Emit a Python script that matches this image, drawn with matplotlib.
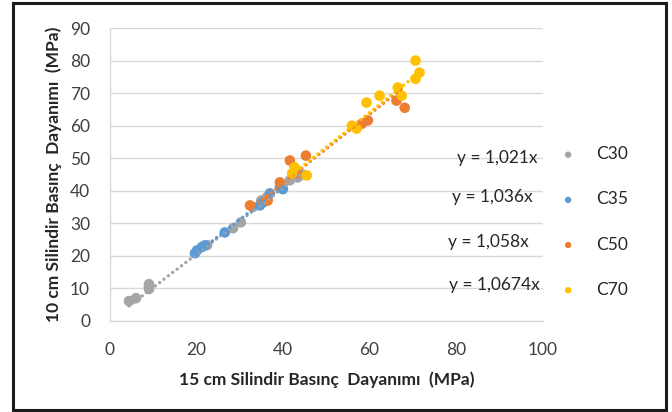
import numpy as np
import matplotlib
matplotlib.use('Agg')
import matplotlib.pyplot as plt
from matplotlib.patches import Rectangle

plt.rcParams['font.family'] = ['Lato', 'DejaVu Sans']

# 15 cm (x) vs 10 cm (y) cylinder strengths, MPa
c30_x = [4.5, 6.1, 9.1, 9.1, 9.1, 22.5, 28.5, 30.3, 33.1, 35.0, 36.3, 41.6, 43.4, 44.5]
c30_y = [6.1, 7.0, 9.8, 10.5, 11.3, 23.3, 28.5, 30.3, 35.0, 37.0, 38.0, 43.2, 44.1, 45.0]

c35_x = [19.7, 20.2, 21.3, 22.0, 26.6, 34.7, 35.4, 37.0, 39.3, 40.0]
c35_y = [20.8, 21.7, 22.7, 23.2, 27.2, 35.5, 36.4, 39.2, 41.0, 40.5]

c50_x = [32.4, 36.5, 39.3, 41.6, 43.2, 45.3, 58.2, 59.6, 66.2, 68.1]
c50_y = [35.5, 37.0, 42.6, 49.3, 45.3, 50.8, 60.6, 61.6, 67.7, 65.5]

c70_x = [42.1, 42.7, 45.5, 55.9, 57.0, 59.3, 62.3, 66.5, 67.4, 70.6, 70.6, 71.5]
c70_y = [45.3, 47.2, 44.7, 60.0, 59.1, 67.1, 69.2, 71.7, 69.2, 80.0, 74.4, 76.3]

slopes = [1.021, 1.036, 1.058, 1.0674]
slope_labels = ['y = 1,021x', 'y = 1,036x', 'y = 1,058x', 'y = 1,0674x']
names = ['C30', 'C35', 'C50', 'C70']
colours = ['#A5A5A5', '#5B9BD5', '#ED7D31', '#FFC000']

xs = [c30_x, c35_x, c50_x, c70_x]
ys = [c30_y, c35_y, c50_y, c70_y]

fig = plt.figure(figsize=(6.72, 4.12), dpi=100)
ax = fig.add_axes([0.163, 0.221, 0.645, 0.711])

handles = []
for x, y, k, col, name in zip(xs, ys, slopes, colours, names):
    h = ax.scatter(x, y, s=58, color=col, edgecolors='none', zorder=3, label=name)
    handles.append(h)
    # trendline through the origin
    tx = np.array([min(x), max(x)])
    ax.plot(tx, k * tx, color=col, linewidth=2.4, linestyle=(0, (0.05, 1.6)),
            dash_capstyle='round', zorder=4)

ax.set_xlim(0, 100)
ax.set_ylim(0, 90)
ax.set_xticks(range(0, 101, 20))
ax.set_yticks(range(0, 91, 10))
ax.grid(axis='y', color='#D9D9D9', linewidth=1.0)
ax.set_axisbelow(True)
for side in ['top', 'right']:
    ax.spines[side].set_visible(False)
for side in ['left', 'bottom']:
    ax.spines[side].set_color('#D9D9D9')
    ax.spines[side].set_linewidth(1.0)
ax.tick_params(length=0, labelsize=12.5, colors='#404040')
ax.tick_params(axis='x', pad=15)
ax.tick_params(axis='y', pad=14)

ax.set_xlabel('15 cm Silindir Basınç  Dayanımı  (MPa)', fontsize=12.5,
              fontweight='bold', color='#262626', labelpad=10)
ax.set_ylabel('10 cm Silindir Basınç  Dayanımı  (MPa)', fontsize=12.5,
              fontweight='bold', color='#262626', labelpad=6)

# trendline equations
eq_pos = [(0.987, 0.557), (0.975, 0.422), (0.968, 0.269), (0.993, 0.122)]
for lab, (xp, yp) in zip(slope_labels, eq_pos):
    ax.text(xp, yp, lab, transform=ax.transAxes, ha='right', va='center',
            fontsize=12.5, color='#262626')

leg = ax.legend(handles=handles, loc='upper left', bbox_to_anchor=(1.022, 0.62),
                frameon=False, fontsize=12.5, markerscale=0.6, labelspacing=1.68,
                handletextpad=1.1, handlelength=1.0, borderaxespad=0)
for t in leg.get_texts():
    t.set_color('#262626')

# outer chart frame
fig.patches.append(Rectangle((13 / 672, 2 / 412), 653 / 672, 407 / 412,
                             transform=fig.transFigure, fill=False,
                             edgecolor='#1a1a1a', linewidth=2.2))

fig.savefig('out.png', dpi=100)
